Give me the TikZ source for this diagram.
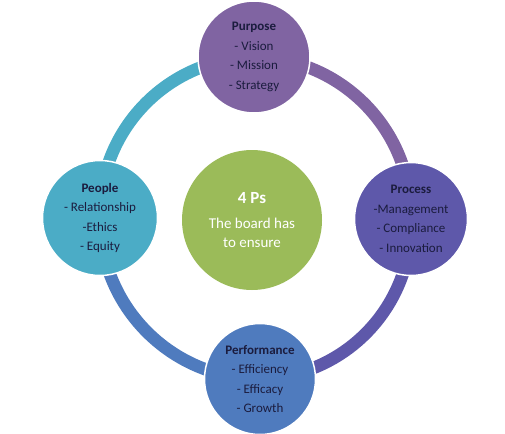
\documentclass[tikz,border=0pt]{standalone}
\usepackage{fontspec}
\setmainfont{Carlito}
\usetikzlibrary{backgrounds}
\definecolor{cPurp}{HTML}{8064A2}
\definecolor{cProc}{HTML}{5E58AA}
\definecolor{cPerf}{HTML}{4F7BBE}
\definecolor{cPeop}{HTML}{4BACC6}
\definecolor{cGreen}{HTML}{9BBB59}
\definecolor{txt}{HTML}{1B1C3E}
\begin{document}
\begin{tikzpicture}[x=1pt,y=-1pt,
  pnode/.style={circle,draw=white,line width=1.5pt,minimum size=#1,inner sep=0pt,
    text=txt,align=center,font=\fontsize{13}{19.5}\selectfont},
  ring/.style={line width=12.5pt}]
\useasboundingbox (0,0) rectangle (505,433);
\node[pnode=112pt,fill=cPurp] (purpose) at (254,57)
  {\textbf{Purpose}\\- Vision\\- Mission\\- Strategy};
\node[pnode=113pt,fill=cProc] (process) at (411,219)
  {\textbf{Process}\\-Management\\- Compliance\\- Innovation};
\node[pnode=111pt,fill=cPerf] (performance) at (260,379)
  {\textbf{Performance}\\- Efficiency\\- Efficacy\\- Growth};
\node[pnode=115pt,fill=cPeop] (people) at (100,218)
  {\textbf{People}\\- Relationship\\-Ethics\\- Equity};
\node[circle,fill=cGreen,minimum size=140pt,inner sep=0pt,text=white,align=center,
  font=\fontsize{15}{19}\selectfont] (center) at (252,220)
  {{\fontsize{17}{19}\selectfont\textbf{4 Ps}}\\[6pt]The board has\\to ensure};
\begin{scope}[on background layer]
\draw[ring,draw=cPurp] (purpose.center) to[bend left=45] (process.center);
\draw[ring,draw=cProc] (process.center) to[bend left=45] (performance.center);
\draw[ring,draw=cPerf] (performance.center) to[bend left=45] (people.center);
\draw[ring,draw=cPeop] (people.center) to[bend left=45] (purpose.center);
\end{scope}
\end{tikzpicture}
\end{document}
